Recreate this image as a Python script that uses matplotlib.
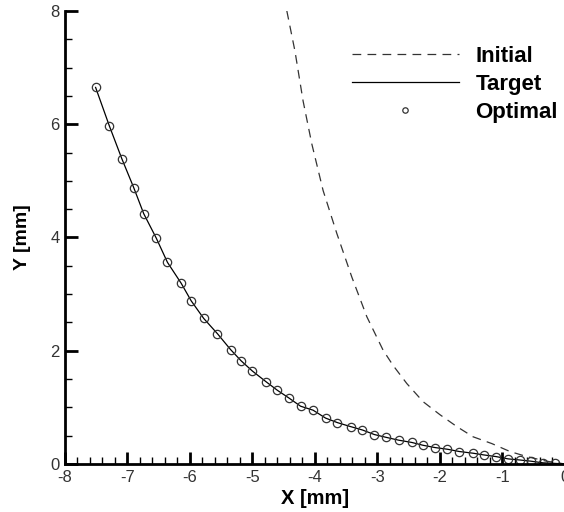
import numpy as np
import matplotlib
matplotlib.use('Agg')
import matplotlib.pyplot as plt
from matplotlib.ticker import MultipleLocator

# initial profile (dashed)
initial_x = [-4.45, -4.32, -4.19, -4.05, -3.87, -3.65, -3.41, -3.17, -2.91, -2.75,
             -2.53, -2.27, -2.00, -1.73, -1.47, -1.17, -0.88, -0.61, -0.30, 0.0]
initial_y = [8.00, 7.29, 6.41, 5.65, 4.83, 4.07, 3.30, 2.60, 2.01, 1.74,
             1.42, 1.10, 0.87, 0.66, 0.48, 0.36, 0.22, 0.13, 0.05, 0.0]

# optimal profile (circles)
optimal_x = [-7.51, -7.29, -7.09, -6.90, -6.74, -6.54, -6.36, -6.14, -5.98, -5.78,
             -5.56, -5.35, -5.18, -5.00, -4.78, -4.60, -4.41, -4.23, -4.03, -3.83,
             -3.64, -3.43, -3.24, -3.05, -2.86, -2.66, -2.45, -2.27, -2.08, -1.88,
             -1.69, -1.47, -1.30, -1.10, -0.91, -0.72, -0.55, -0.35, -0.16]
optimal_y = [6.65, 5.97, 5.39, 4.88, 4.42, 3.99, 3.56, 3.19, 2.88, 2.57,
             2.30, 2.02, 1.82, 1.64, 1.45, 1.30, 1.16, 1.02, 0.95, 0.81,
             0.73, 0.66, 0.60, 0.52, 0.47, 0.42, 0.38, 0.33, 0.29, 0.26,
             0.22, 0.19, 0.16, 0.13, 0.09, 0.07, 0.05, 0.02, 0.01]

# target profile (solid)
target_x = optimal_x + [0.0]
target_y = optimal_y + [0.0]

plt.rcParams['font.family'] = ['Liberation Sans', 'DejaVu Sans']
plt.rcParams['axes.unicode_minus'] = False

fig = plt.figure(figsize=(5.64, 5.12), dpi=100)
ax = fig.add_axes([0.1152, 0.0938, 0.8865, 0.8848])

ax.plot(initial_x, initial_y, color='#333333', lw=0.9, linestyle=(0, (7, 5)),
        label='Initial')
ax.plot(target_x, target_y, color='black', lw=0.9, label='Target')
ax.plot(optimal_x, optimal_y, linestyle='none', marker='o', ms=6,
        mfc='none', mec='#333333', mew=0.9, label='Optimal')

ax.set_xlim(-8, 0)
ax.set_ylim(0, 8)
ax.xaxis.set_major_locator(MultipleLocator(1))
ax.xaxis.set_minor_locator(MultipleLocator(0.2))
ax.yaxis.set_major_locator(MultipleLocator(2))
ax.yaxis.set_minor_locator(MultipleLocator(0.5))

for side in ['top', 'right']:
    ax.spines[side].set_visible(False)
for side in ['left', 'bottom']:
    ax.spines[side].set_linewidth(2)

ax.tick_params(which='major', direction='in', length=9, width=2, labelsize=12,
               labelcolor='#333333', pad=4)
ax.tick_params(which='minor', direction='in', length=5, width=1)

ax.set_xlabel('X [mm]', fontsize=14.5, fontweight='bold', labelpad=3)
ax.set_ylabel('Y [mm]', fontsize=14, fontweight='bold', labelpad=14)

leg = ax.legend(loc='upper left', bbox_to_anchor=(352 / 564, 1 - 46 / 512),
                bbox_transform=fig.transFigure, frameon=False,
                borderpad=0, borderaxespad=0,
                handlelength=4.8, handletextpad=0.75, labelspacing=0.31,
                markerscale=0.65, prop={'size': 16, 'weight': 'bold'})

fig.savefig('out.png', dpi=100)
